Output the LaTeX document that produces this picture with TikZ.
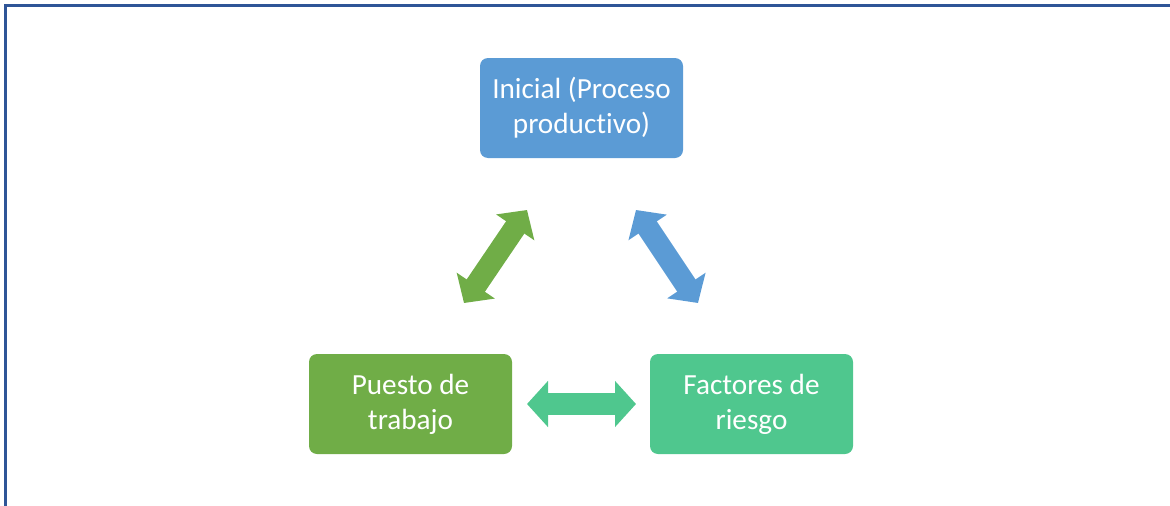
\documentclass[tikz,border=0pt]{standalone}
\usepackage{fontspec}
\setmainfont{Carlito}[RawFeature=-liga]
\usetikzlibrary{arrows.meta}
\definecolor{frameblue}{HTML}{2F5597}
\definecolor{cblue}{HTML}{5B9BD5}
\definecolor{cgreen}{HTML}{70AD47}
\definecolor{cteal}{HTML}{4FC78E}
\tikzset{
  box/.style={rectangle, rounded corners=8pt, minimum width=203pt, minimum height=100pt,
    align=center, text=white, font=\fontsize{29.2}{35}\selectfont, inner sep=0pt},
  dblarrow/.style={line width=22pt, {Triangle[length=21pt,width=45pt]}-{Triangle[length=21pt,width=45pt]}}
}
\begin{document}
\begin{tikzpicture}[x=1pt,y=-1pt]
\useasboundingbox (0,0) rectangle (1170,506);
\draw[frameblue, line width=3pt] (1180,5.5) -- (5.5,5.5) -- (5.5,520);
\node[box, fill=cblue] (ini) at (581.5,108) {Inicial (Proceso\\productivo)};
\node[box, fill=cgreen] (pue) at (410.5,404) {Puesto de\\trabajo};
\node[box, fill=cteal] (fac) at (751.5,404) {Factores de\\riesgo};
\coordinate (g1) at (464,303);
\coordinate (g2) at (527,210);
\coordinate (b1) at (636,210);
\coordinate (b2) at (698,303);
\coordinate (h1) at (527,404);
\coordinate (h2) at (636,404);
\draw[dblarrow, cgreen] (g1) -- (g2);
\draw[dblarrow, cblue] (b1) -- (b2);
\draw[dblarrow, cteal] (h1) -- (h2);
\end{tikzpicture}
\end{document}
